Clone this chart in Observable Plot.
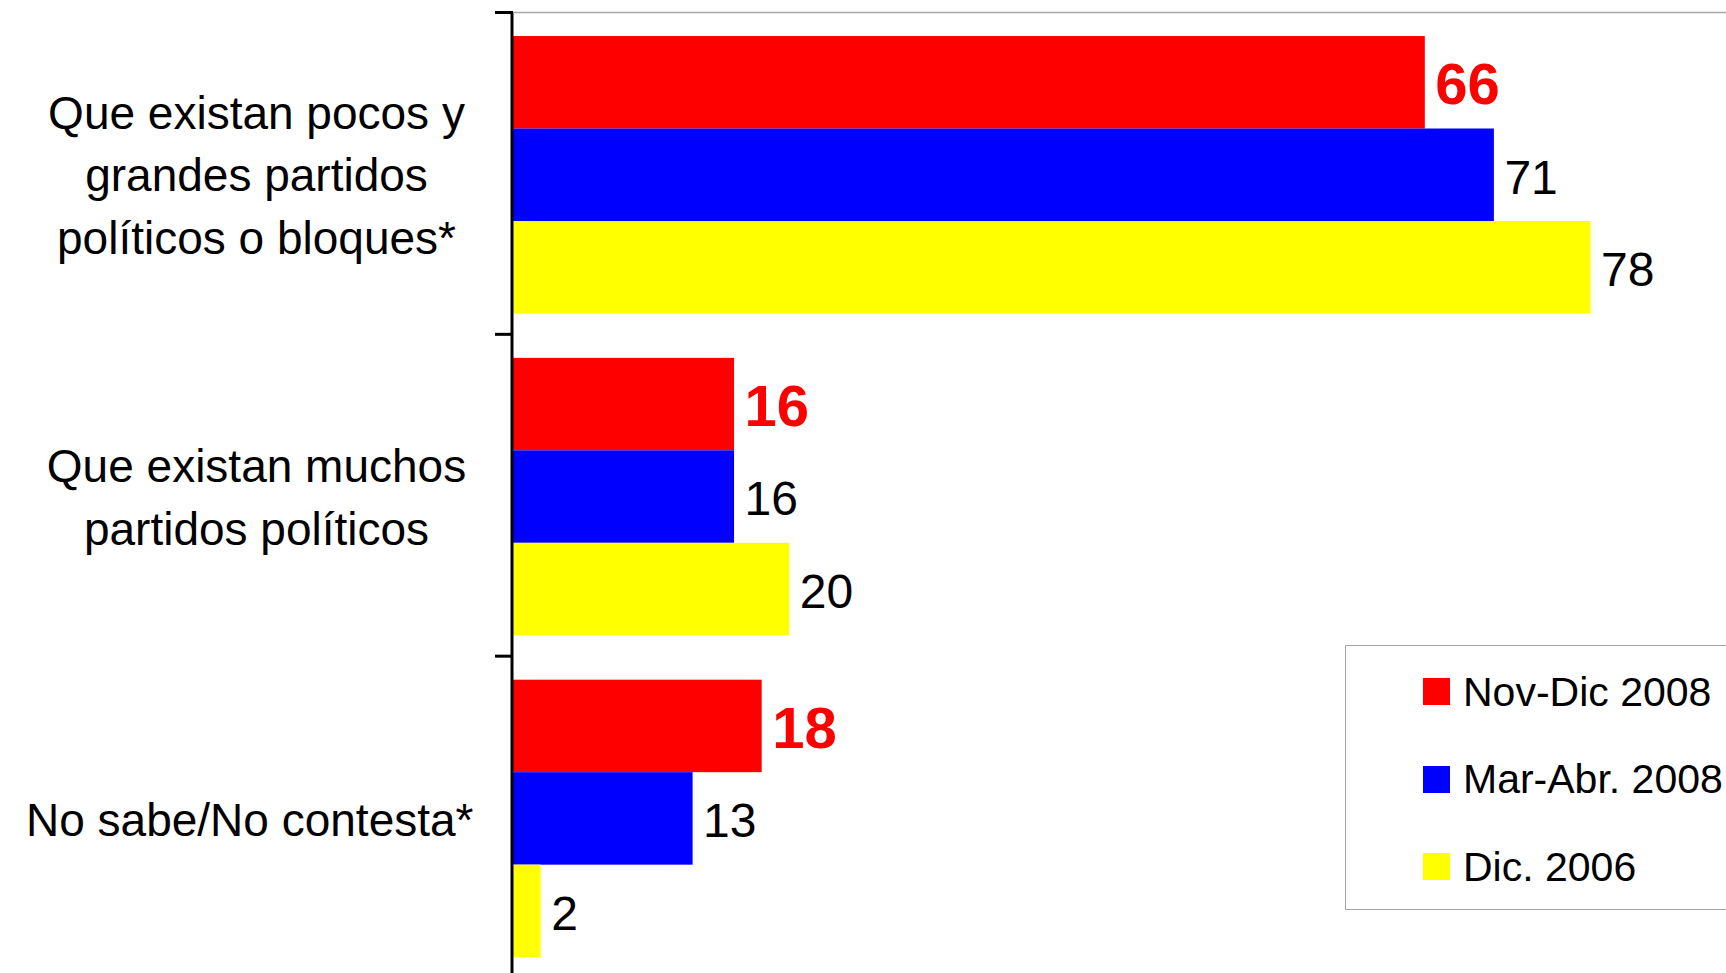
<!DOCTYPE html>
<html>
<head>
<meta charset="utf-8">
<script src="https://cdn.jsdelivr.net/npm/d3@7"></script>
<script src="https://cdn.jsdelivr.net/npm/@observablehq/plot@0.6"></script>
<style>
  html, body { margin: 0; padding: 0; background: #fff; overflow: hidden; width: 1726px; height: 973px; }
  #chart { position: relative; width: 1726px; height: 973px; font-family: "Liberation Sans", Arial, sans-serif; }
  #chart svg { display: block; }
  #legend { position: absolute; left: 1345px; top: 645px; width: 440px; height: 265px; border: 1.5px solid #a6a6a6; box-sizing: border-box; background: #fff; }
  .item { position: absolute; left: 77px; height: 40px; display: flex; align-items: center; white-space: nowrap; }
  .sw { width: 27px; height: 27px; margin-right: 13px; }
  .lab { font-size: 41px; line-height: 40px; color: #000; }
</style>
</head>
<body>
<div id="chart"></div>
<script>
const categories = [
  "Que existan pocos y\ngrandes partidos\npolíticos o bloques*",
  "Que existan muchos\npartidos políticos",
  "No sabe/No contesta*"
];
const series = ["Nov-Dic 2008", "Mar-Abr. 2008", "Dic. 2006"];
const novDic2008 = [66, 16, 18];
const marAbr2008 = [71, 16, 13];
const dic2006 = [78, 20, 2];
const colors = ["#ff0000", "#0000ff", "#ffff00"];

const seriesValues = [novDic2008, marAbr2008, dic2006];
const rows = [];
categories.forEach((c, i) => {
  series.forEach((s, j) => rows.push({category: c, series: s, value: seriesValues[j][i]}));
});

const font = '"Liberation Sans", Arial, sans-serif';

const chart = Plot.plot({
  width: 1726,
  height: 973,
  marginLeft: 513,
  marginRight: 0,
  marginTop: 12.5,
  marginBottom: -5,
  x: {domain: [0, 87.8], axis: null},
  y: {domain: series, axis: null, paddingInner: 0, paddingOuter: 0.24, align: 0.53, round: false},
  fy: {domain: categories, axis: null, padding: 0, round: false},
  color: {domain: series, range: colors},
  style: {fontFamily: font, background: "white", overflow: "hidden"},
  marks: [
    Plot.barX(rows, {fy: "category", y: "series", x: "value", fill: "series"}),
    Plot.ruleX([0], {dx: -1.5, stroke: "black", strokeWidth: 3}),
    Plot.text(rows, {
      filter: d => d.series === series[0],
      fy: "category", y: "series", x: "value",
      text: d => String(d.value),
      textAnchor: "start", dx: 10, dy: 3,
      fill: "#ff0000", fontWeight: "bold", fontSize: 58
    }),
    Plot.text(rows, {
      filter: d => d.series !== series[0],
      fy: "category", y: "series", x: "value",
      text: d => String(d.value),
      textAnchor: "start", dx: 10, dy: 3,
      fill: "black", fontSize: 48
    }),
    Plot.text(categories, {
      filter: d => d.includes("\n"),
      fy: d => d, text: d => d,
      frameAnchor: "left", textAnchor: "middle", dx: -257, dy: -2.5,
      lineHeight: 1.36, fontSize: 46, fill: "black"
    }),
    Plot.text(categories, {
      filter: d => !d.includes("\n"),
      fy: d => d, text: d => d,
      frameAnchor: "left", textAnchor: "end", dx: -40, dy: 4,
      fontSize: 46, fill: "black"
    })
  ]
});

// Decorations drawn from Plot's own scales: group boundary ticks and top border line
const fyS = chart.scale("fy");
const xS = chart.scale("x");
const x0 = xS.apply(0);
const svg = d3.select(chart);
svg.append("line")
  .attr("x1", x0).attr("x2", 1726)
  .attr("y1", fyS.range[0]).attr("y2", fyS.range[0])
  .attr("stroke", "#a6a6a6").attr("stroke-width", 1.5);
const g = svg.append("g");
categories.forEach(c => {
  const yy = fyS.apply(c);
  g.append("line")
    .attr("x1", x0 - 18).attr("x2", x0)
    .attr("y1", yy).attr("y2", yy)
    .attr("stroke", "black").attr("stroke-width", 3);
});

const container = document.getElementById("chart");
container.appendChild(chart);

// Legend
const legend = document.createElement("div");
legend.id = "legend";
series.forEach((s, i) => {
  const item = document.createElement("div");
  item.className = "item";
  item.style.top = (25.5 + i * 87.7) + "px";
  const sw = document.createElement("div");
  sw.className = "sw";
  sw.style.background = colors[i];
  const lab = document.createElement("span");
  lab.className = "lab";
  lab.textContent = s;
  item.appendChild(sw);
  item.appendChild(lab);
  legend.appendChild(item);
});
container.appendChild(legend);
</script>
</body>
</html>
